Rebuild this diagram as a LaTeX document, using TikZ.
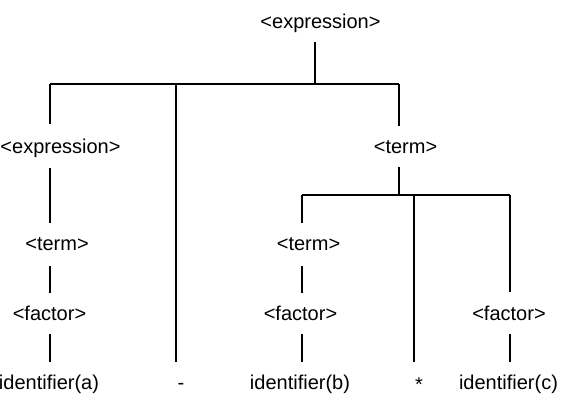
\documentclass[tikz,border=0pt]{standalone}
\usepackage{fontspec}
\setmainfont{Liberation Sans}
\begin{document}
\begin{tikzpicture}[x=1pt,y=-1pt,
  lbl/.style={inner sep=0pt,anchor=base,font=\fontsize{20}{24}\selectfont},
  edge/.style={line width=1.1pt,line cap=butt}]
\path[use as bounding box] (0,0) rectangle (570,402);
\clip (0,0) rectangle (570,402);
% labels
\node[lbl] (e0) at (320.5,28) {<expression>};
\node[lbl] (e1) at (60.5,153) {<expression>};
\node[lbl] (t1) at (405.5,153) {<term>};
\node[lbl] (t2) at (57,250) {<term>};
\node[lbl] (t3) at (308.5,250) {<term>};
\node[lbl] (f1) at (49.5,320) {<factor>};
\node[lbl] (f2) at (300.5,320) {<factor>};
\node[lbl] (f3) at (509,320) {<factor>};
\node[lbl] (ia) at (49,389) {identifier(a)};
\node[lbl] (mi) at (181,389) {-};
\node[lbl] (ib) at (300,389) {identifier(b)};
\node[lbl] (st) at (419,391) {*};
\node[lbl] (ic) at (508.5,389) {identifier(c)};
% connector points
\coordinate (e0s) at (315,42);
\coordinate (b1m) at (315,84);
\coordinate (b1l) at (50,84);
\coordinate (b1c) at (176,84);
\coordinate (b1r) at (399,84);
\coordinate (e1n) at (50,124);
\coordinate (mun) at (176,362);
\coordinate (t1n) at (399,126);
\coordinate (e1s) at (50,168);
\coordinate (t2n) at (50,223);
\coordinate (t1s) at (399,167);
\coordinate (b2m) at (399,195);
\coordinate (b2l) at (302,195);
\coordinate (b2c) at (414,195);
\coordinate (b2r) at (510,195);
\coordinate (t3n) at (302,223);
\coordinate (stn) at (414,362);
\coordinate (f3n) at (510,292);
\coordinate (t2s) at (50,266);
\coordinate (f1n) at (50,293);
\coordinate (t3s) at (302,266);
\coordinate (f2n) at (302,293);
\coordinate (f1s) at (50,334);
\coordinate (ian) at (50,362);
\coordinate (f2s) at (302,334);
\coordinate (ibn) at (302,362);
\coordinate (f3s) at (510,334);
\coordinate (icn) at (510,362);
% connectors
\draw[edge] (e0s) -- (b1m);
\draw[edge] (b1l) -- (b1r);
\draw[edge] (b1l) -- (e1n);
\draw[edge] (b1c) -- (mun);
\draw[edge] (b1r) -- (t1n);
\draw[edge] (e1s) -- (t2n);
\draw[edge] (t1s) -- (b2m);
\draw[edge] (b2l) -- (b2r);
\draw[edge] (b2l) -- (t3n);
\draw[edge] (b2c) -- (stn);
\draw[edge] (b2r) -- (f3n);
\draw[edge] (t2s) -- (f1n);
\draw[edge] (t3s) -- (f2n);
\draw[edge] (f1s) -- (ian);
\draw[edge] (f2s) -- (ibn);
\draw[edge] (f3s) -- (icn);
\end{tikzpicture}
\end{document}
